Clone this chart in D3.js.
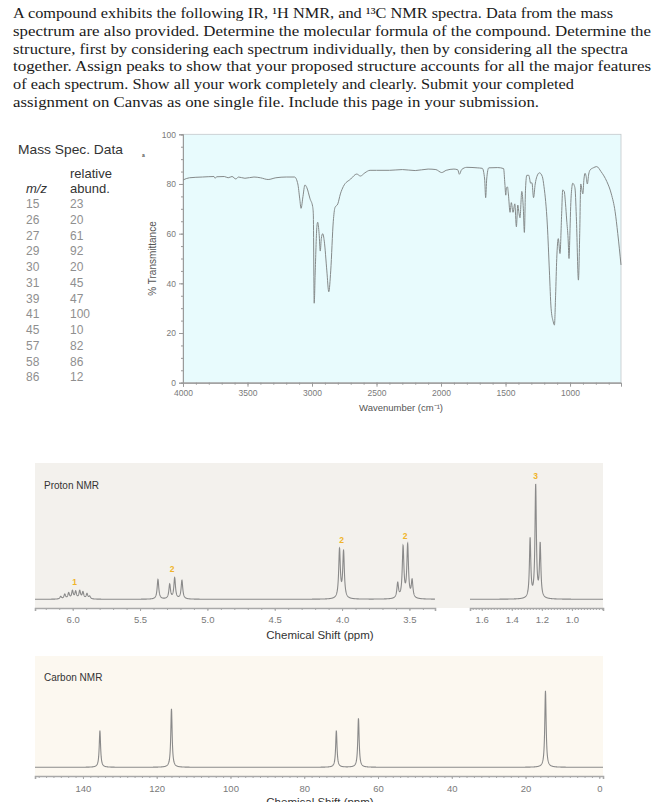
<!DOCTYPE html>
<html>
<head>
<meta charset="utf-8">
<script src="https://cdn.jsdelivr.net/npm/d3@7"></script>
<style>
  body { margin: 0; background: #fff; }
  svg { display: block; }
</style>
</head>
<body>
<svg width="656" height="802"></svg>
<script>
// question text, one entry per printed line
const headerLines = [
  "A compound exhibits the following IR, \u00B9H NMR, and \u00B9\u00B3C NMR spectra. Data from the mass",
  "spectrum are also provided. Determine the molecular formula of the compound. Determine the",
  "structure, first by considering each spectrum individually, then by considering all the spectra",
  "together. Assign peaks to show that your proposed structure accounts for all the major features",
  "of each spectrum. Show all your work completely and clearly. Submit your completed",
  "assignment on Canvas as one single file. Include this page in your submission."
];
const headerEnds = [613, 651, 628, 651, 574, 539];

// mass spec table
const msMz = [15, 26, 27, 29, 30, 31, 39, 41, 45, 57, 58, 86];
const msAbund = [23, 20, 61, 92, 20, 45, 47, 100, 10, 82, 86, 12];

// IR spectrum
const irWavenumber = [4000, 3950, 3850, 3760, 3750, 3740, 3680, 3650, 3620, 3590, 3570, 3520, 3450, 3400, 3340, 3280, 3200, 3135,
  3110, 3095, 3085, 3070, 3055, 3040, 3015, 2995, 2990, 2983, 2975, 2962, 2956, 2945, 2936, 2928, 2917, 2905, 2885, 2870, 2855,
  2835, 2822, 2800, 2780, 2757, 2700, 2653, 2625, 2590, 2550, 2500, 2400, 2300, 2200, 2100, 2040, 1995, 1960, 1900, 1870, 1858,
  1840, 1800, 1720, 1680, 1662, 1654, 1646, 1630, 1560, 1515, 1505, 1498, 1493, 1485, 1478, 1465, 1455, 1442, 1428, 1416, 1405,
  1395, 1388, 1374, 1362, 1354, 1345, 1335, 1320, 1305, 1295, 1283, 1270, 1257, 1237, 1215, 1202, 1176, 1160, 1147, 1130, 1121,
  1112, 1103, 1091, 1078, 1065, 1057, 1045, 1035, 1026, 1015, 1008, 1000, 995, 985, 979, 968, 961, 950, 935, 925, 917, 901, 892,
  884, 875, 866, 855, 845, 820, 793, 760, 715, 680, 651, 630, 605];
const irTransmittance = [81.6, 82.5, 82.8, 83.0, 82.3, 82.9, 83.0, 82.5, 83.0, 82.0, 82.8, 82.3, 82.8, 82.5, 81.8, 82.5, 82.8, 82.8,
  80, 74, 70.2, 75, 79.6, 78.5, 74, 70.9, 68, 32, 45, 63, 64.6, 60, 53, 58, 60, 57, 45, 36.6, 45,
  65, 70.5, 72, 76, 79, 82, 84, 83.2, 84.5, 85.5, 85.5, 85.5, 85.8, 85.4, 86, 85.8, 84.6, 85.5, 86, 85.7, 83.9,
  85.8, 86.7, 86.5, 86.3, 82, 74.5, 82, 86.5, 86.6, 86.2, 80, 75.5, 78.5, 78.8, 76, 68.6, 72.5, 68.6, 72, 62.8, 71.5,
  68, 66.4, 77, 70, 60.5, 78, 83.5, 83.5, 80.3, 80.5, 74.5, 80, 83, 84.5, 83, 79, 63.5, 45, 30, 24.5, 23.2,
  35, 50, 58, 52, 68, 77.6, 77, 72, 65.5, 58, 50, 62, 70.9, 79, 80.3, 79.5, 78, 65, 41.3, 60, 80, 76, 82,
  84.3, 83, 80, 84, 85.6, 86.5, 87, 85, 81, 76, 69, 60, 47.4];
const irXTicks = [4000, 3500, 3000, 2500, 2000, 1500, 1000];
const irYTicks = [0, 20, 40, 60, 80, 100];

// proton NMR lines (ppm, relative height)
const hPpm = [6.089, 6.059, 6.030, 6.002, 5.978, 5.948, 5.924, 5.894, 5.874,
  5.367, 5.280, 5.243, 5.189,
  4.019, 3.989,
  3.587, 3.547, 3.513, 3.480,
  1.278, 1.241, 1.211];
const hHeight = [2.2, 4.0, 5.0, 6.8, 6.2, 6.8, 5.8, 4.4, 2.2,
  17, 12.5, 18, 16,
  42, 40,
  13, 44, 45.5, 15,
  51, 97, 46];
const hGroups = [
  { label: "1", ppm: 5.985, top: 8.6 },
  { label: "2", ppm: 5.262, top: 20 },
  { label: "2", ppm: 4.004, top: 45 },
  { label: "2", ppm: 3.532, top: 48.3 },
  { label: "3", ppm: 1.241, top: 100 }
];
const hTicksLeft = [6.0, 5.5, 5.0, 4.5, 4.0, 3.5];
const hTicksRight = [1.6, 1.4, 1.2, 1.0];

// carbon NMR lines
const cPpm = [135.4, 116.0, 71.3, 65.3, 14.6];
const cHeight = [47.8, 76.5, 47.8, 64, 100];
const cTicks = [140, 120, 100, 80, 60, 40, 20, 0];

const sans = "'Liberation Sans', Arial, Helvetica, sans-serif";
const svg = d3.select("svg");

// header text
const header = svg.append("g")
    .attr("font-family", "'Liberation Serif', 'DejaVu Serif', serif")
    .attr("font-size", 14.5).attr("fill", "#1a1a1a");
headerLines.forEach((t, i) => {
    header.append("text")
        .attr("x", 13).attr("y", 18.3 + i * 17.7)
        .attr("textLength", headerEnds[i] - 13)
        .attr("lengthAdjust", "spacingAndGlyphs")
        .text(t);
});

// Mass spec table
const ms = svg.append("g").attr("font-family", sans);
ms.append("text").attr("x", 18).attr("y", 153.5).attr("font-size", 13.5).attr("fill", "#333")
    .attr("textLength", 105).attr("lengthAdjust", "spacingAndGlyphs").text("Mass Spec. Data");
ms.append("text").attr("x", 70).attr("y", 177.5).attr("font-size", 13).attr("fill", "#333").text("relative");
ms.append("text").attr("x", 26).attr("y", 192.5).attr("font-size", 13).attr("fill", "#333")
    .attr("font-style", "italic").text("m/z");
ms.append("text").attr("x", 70).attr("y", 192.5).attr("font-size", 13).attr("fill", "#333").text("abund.");
msMz.forEach((m, i) => {
    const y = 208 + i * 15.76;
    ms.append("text").attr("x", 26).attr("y", y).attr("font-size", 12).attr("fill", "#8f8f8f").text(m);
    ms.append("text").attr("x", 70).attr("y", y).attr("font-size", 12).attr("fill", "#8f8f8f").text(msAbund[i]);
});

// IR spectrum
const irX = d3.scaleLinear().domain([4000, 605]).range([183, 621]);
const irY = d3.scaleLinear().domain([0, 100]).range([382.7, 134.3]);
const ir = svg.append("g").attr("font-family", sans);

ir.append("rect")
    .attr("x", irX(4000)).attr("y", irY(100))
    .attr("width", irX(605) - irX(4000)).attr("height", irY(0) - irY(100))
    .attr("fill", "#e8fbfd").attr("stroke", "#c4c8ca").attr("stroke-width", 0.8);

function styleAxis(g, col) {
    g.select(".domain").attr("stroke", col);
    g.selectAll(".tick line").attr("stroke", col);
    g.selectAll(".tick text").attr("fill", "#7a7a7a");
}

const irLeft = ir.append("g").attr("transform", `translate(${irX(4000)},0)`)
    .call(d3.axisLeft(irY).tickValues(irYTicks).tickSize(4).tickPadding(3));
irLeft.attr("font-size", 8.5).attr("font-family", sans);
styleAxis(irLeft, "#9a9a9a");
const irLeftMinor = ir.append("g").attr("transform", `translate(${irX(4000)},0)`)
    .call(d3.axisLeft(irY).tickValues(d3.range(0, 101, 5)).tickSize(2).tickFormat(""));
styleAxis(irLeftMinor, "#9a9a9a");

const irBottom = ir.append("g").attr("transform", `translate(0,${irY(0)})`)
    .call(d3.axisBottom(irX).tickValues(irXTicks).tickSize(4).tickPadding(3).tickFormat(d3.format("d")));
irBottom.attr("font-size", 8.5).attr("font-family", sans);
styleAxis(irBottom, "#9a9a9a");
const irBottomMinor = ir.append("g").attr("transform", `translate(0,${irY(0)})`)
    .call(d3.axisBottom(irX).tickValues(d3.range(700, 4001, 100)).tickSize(2).tickFormat(""));
styleAxis(irBottomMinor, "#9a9a9a");

ir.append("path")
    .datum(irWavenumber.map((w, i) => [w, irTransmittance[i]]))
    .attr("fill", "none").attr("stroke", "#858a8a").attr("stroke-width", 1)
    .attr("stroke-linejoin", "round")
    .attr("d", d3.line().x(d => irX(d[0])).y(d => irY(d[1])).curve(d3.curveMonotoneX));

ir.append("text").attr("transform", `translate(156,${(irY(0) + irY(100)) / 2}) rotate(-90)`)
    .attr("text-anchor", "middle").attr("font-size", 10).attr("fill", "#555").text("% Transmittance");
ir.append("text").attr("x", 401).attr("y", 411).attr("text-anchor", "middle")
    .attr("font-size", 9.5).attr("fill", "#555").text("Wavenumber (cm\u207B\u00B9)");
ir.append("text").attr("x", 142).attr("y", 157).attr("font-size", 5).attr("font-weight", "bold")
    .attr("fill", "#555").text("a");

// lineshape: sum of narrow lorentzian lines
function lineshape(lo, hi, ppms, heights, w, step) {
    const pts = [];
    for (let p = hi; p >= lo - 1e-9; p -= step) {
        let s = 0;
        ppms.forEach((c, i) => { const u = (p - c) / w; s += heights[i] / (1 + u * u); });
        pts.push([p, s]);
    }
    return pts;
}

// Proton NMR
const hBase = 599.3, hAxisY = 608;
const hY = d3.scaleLinear().domain([0, 100]).range([hBase, 483.3]);
const xL = d3.scaleLinear().domain([6.28, 3.31]).range([35, 435]);
const xR = d3.scaleLinear().domain([1.678, 0.793]).range([470, 603]);
const hn = svg.append("g").attr("font-family", sans);

hn.append("rect").attr("x", 35).attr("y", 463).attr("width", 568).attr("height", hAxisY - 463).attr("fill", "#f3f1ed");
hn.append("text").attr("x", 44).attr("y", 488.5).attr("font-size", 10).attr("fill", "#333").text("Proton NMR");

[[xL, 3.31, 6.28, hTicksLeft, d3.range(34, 63).map(v => v / 10)],
 [xR, 0.793, 1.678, hTicksRight, d3.range(40, 84).map(v => v / 50)]].forEach(([sx, lo, hi, ticks, minor]) => {
    const line = lineshape(lo, hi, hPpm, hHeight, sx === xL ? 0.0072 : 0.0055, 0.0008);
    hn.append("path").datum(line)
        .attr("fill", "none").attr("stroke", "#8a8a8a").attr("stroke-width", 1.1)
        .attr("d", d3.line().x(d => sx(d[0])).y(d => hY(d[1])));

    const ax = hn.append("g").attr("transform", `translate(0,${hAxisY})`)
        .call(d3.axisBottom(sx).tickValues(ticks).tickSize(3).tickPadding(5).tickFormat(d3.format(".1f")));
    ax.attr("font-size", 9.5).attr("font-family", sans);
    styleAxis(ax, "#a8a8a8");
    ax.select(".domain").attr("stroke-width", 1.6);
    const axm = hn.append("g").attr("transform", `translate(0,${hAxisY})`)
        .call(d3.axisBottom(sx).tickValues(minor).tickSize(2).tickFormat(""));
    styleAxis(axm, "#a8a8a8");
    axm.select(".domain").remove();
});

hGroups.forEach(g => {
    const sx = g.ppm > 2 ? xL : xR;
    hn.append("text").attr("x", sx(g.ppm)).attr("y", hY(g.top) - 4)
        .attr("text-anchor", "middle").attr("font-size", 8.5).attr("font-weight", "bold")
        .attr("fill", "#f0b429").text(g.label);
});
hn.append("text").attr("x", 320).attr("y", 639).attr("text-anchor", "middle")
    .attr("font-size", 11.5).attr("fill", "#333").text("Chemical Shift (ppm)");

// Carbon NMR
const cBase = 767.3, cAxisY = 776;
const cY = d3.scaleLinear().domain([0, 100]).range([cBase, 690.7]);
const xC = d3.scaleLinear().domain([153, -1]).range([35, 603]);
const cn = svg.append("g").attr("font-family", sans);

cn.append("rect").attr("x", 35).attr("y", 656).attr("width", 568).attr("height", cAxisY - 656).attr("fill", "#fcf8f0");
cn.append("text").attr("x", 44).attr("y", 680.5).attr("font-size", 10).attr("fill", "#333").text("Carbon NMR");

cn.append("path").datum(lineshape(-1, 153, cPpm, cHeight, 0.22, 0.05))
    .attr("fill", "none").attr("stroke", "#8a8a8a").attr("stroke-width", 1.1)
    .attr("d", d3.line().x(d => xC(d[0])).y(d => cY(d[1])));

const cAx = cn.append("g").attr("transform", `translate(0,${cAxisY})`)
    .call(d3.axisBottom(xC).tickValues(cTicks).tickSize(3).tickPadding(6));
cAx.attr("font-size", 9.5).attr("font-family", sans);
styleAxis(cAx, "#a8a8a8");
cAx.select(".domain").attr("stroke-width", 1.6);
const cAxm = cn.append("g").attr("transform", `translate(0,${cAxisY})`)
    .call(d3.axisBottom(xC).tickValues(d3.range(0, 153, 2)).tickSize(2).tickFormat(""));
styleAxis(cAxm, "#a8a8a8");
cAxm.select(".domain").remove();

// this label is cut by the bottom edge in the reference too
cn.append("text").attr("x", 320).attr("y", 806).attr("text-anchor", "middle")
    .attr("font-size", 11.5).attr("fill", "#333").text("Chemical Shift (ppm)");
</script>
</body>
</html>
